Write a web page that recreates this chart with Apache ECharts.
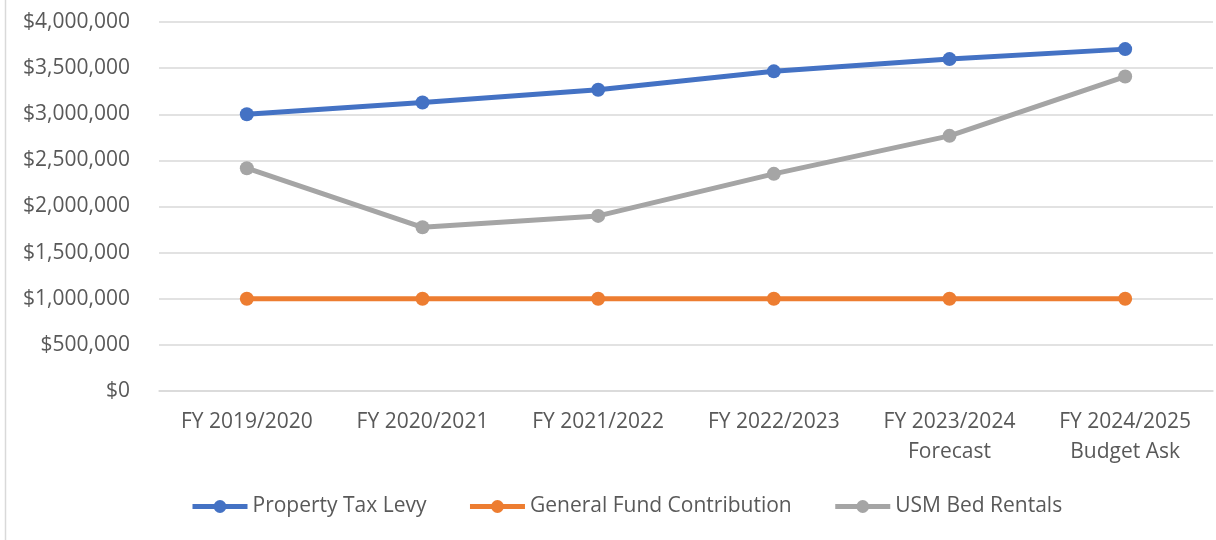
<!DOCTYPE html>
<html>
<head>
<meta charset="utf-8">
<title>Funding sources</title>
<script src="https://cdn.jsdelivr.net/npm/echarts@6/dist/echarts.min.js"></script>
<style>
    html, body { margin: 0; padding: 0; background: #fff; }
    #chart { width: 1216px; height: 540px; }
</style>
</head>
<body>
<div id="chart"></div>
<script>
// data
var years = ['FY 2019/2020', 'FY 2020/2021', 'FY 2021/2022', 'FY 2022/2023', 'FY 2023/2024\nForecast', 'FY 2024/2025\nBudget Ask'];
var propertyTax = [3000000, 3127000, 3265000, 3465000, 3598000, 3706000];
var generalFund = [1000000, 1000000, 1000000, 1000000, 1000000, 1000000];
var usmBeds = [2415000, 1775000, 1898000, 2354000, 2766000, 3409000];
var seriesNames = ['Property Tax Levy', 'General Fund Contribution', 'USM Bed Rentals'];
var colors = ['#4472c4', '#ed7d31', '#a5a5a5'];

var font = 'Open Sans';
var textColor = '#595959';

function line(name, data, color) {
    return {
        name: name,
        type: 'line',
        data: data,
        symbol: 'circle',
        symbolSize: 14,
        lineStyle: { width: 5, color: color },
        itemStyle: { color: color },
        emphasis: { disabled: true }
    };
}

var myChart = echarts.init(document.getElementById('chart'));

var option = {
    animation: false,
    textStyle: { fontFamily: font },
    grid: { left: 159, right: 3, top: 22, bottom: 149 },
    xAxis: {
        type: 'category',
        data: years,
        axisLine: { lineStyle: { color: '#d9d9d9', width: 1.5 } },
        axisTick: { show: false },
        axisLabel: {
            color: textColor,
            fontSize: 21,
            fontFamily: font,
            lineHeight: 30,
            margin: 16,
            interval: 0
        }
    },
    yAxis: {
        type: 'value',
        min: 0,
        max: 4000000,
        interval: 500000,
        axisLine: { show: false },
        axisTick: { show: false },
        splitLine: { lineStyle: { color: '#d9d9d9', width: 1.5 } },
        axisLabel: {
            color: textColor,
            fontSize: 21,
            fontFamily: font,
            margin: 29,
            formatter: function (v) {
                return '$' + v.toLocaleString('en-US');
            }
        }
    },
    legend: {
        data: seriesNames,
        left: 185,
        top: 491,
        itemWidth: 55,
        itemHeight: 16,
        itemGap: 41,
        lineStyle: { width: 5 },
        textStyle: { color: textColor, fontSize: 21, fontFamily: font }
    },
    graphic: [{
        type: 'line',
        shape: { x1: 5.5, y1: 0, x2: 5.5, y2: 540 },
        style: { stroke: '#d9d9d9', lineWidth: 1.5 }
    }],
    series: [
        line(seriesNames[0], propertyTax, colors[0]),
        line(seriesNames[1], generalFund, colors[1]),
        line(seriesNames[2], usmBeds, colors[2])
    ]
};

myChart.setOption(option);
</script>
</body>
</html>
